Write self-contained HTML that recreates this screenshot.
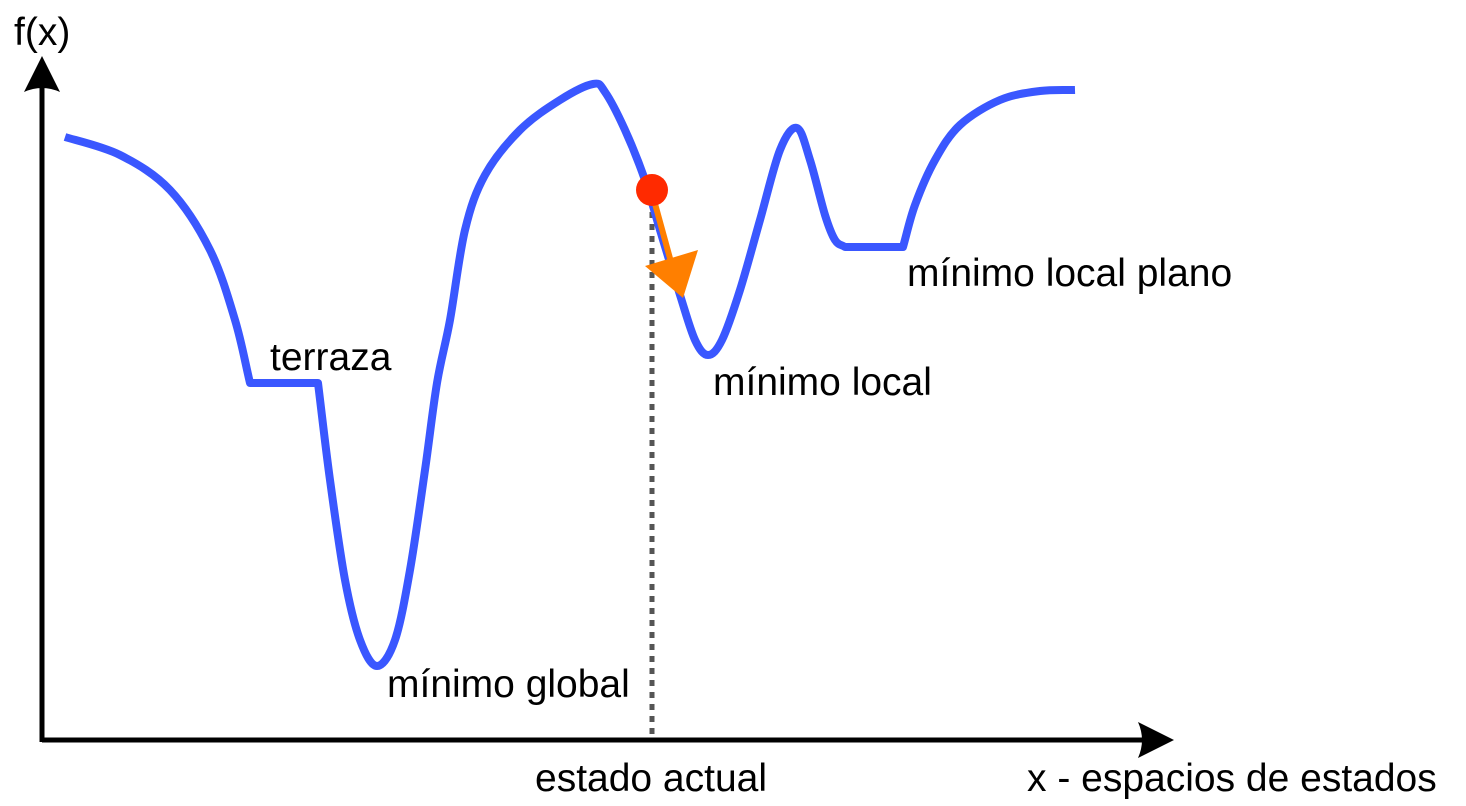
<!DOCTYPE html>
<html><head><meta charset="utf-8"><style>
html,body{margin:0;padding:0;background:#fff;}
svg{display:block;}
text{font-family:"Liberation Sans",Arial,sans-serif;font-size:39px;fill:#000;}
</style></head><body>
<svg id="chart" width="1466" height="806" viewBox="0 0 1466 806">
<g>
<line x1="42" y1="740" x2="1150" y2="740" stroke="#000" stroke-width="5"/>
<path d="M1174,740 L1138,722 Q1146,740 1138,758 Z" fill="#000"/>
</g>
<g>
<line x1="42" y1="742" x2="42" y2="80" stroke="#000" stroke-width="5"/>
<path d="M42,56 L24,92 Q42,84 60,92 Z" fill="#000"/>
</g>
<text x="14" y="45">f(x)</text>
<text x="1027" y="791">x - espacios de estados</text>
<text x="535" y="791">estado actual</text>
<text x="270" y="370">terraza</text>
<text x="387" y="697">mínimo global</text>
<text x="713" y="395">mínimo local</text>
<text x="907" y="286">mínimo local plano</text>
<line x1="652" y1="200" x2="652" y2="740" stroke="#555" stroke-width="5" stroke-dasharray="6 6"/>
<path id="curve" fill="none" stroke="#3a57ff" stroke-width="8" stroke-linejoin="round"/>
<g>
<line x1="654" y1="200" x2="671" y2="262" stroke="#ff7f00" stroke-width="6"/>
<path d="M683,298 L645,266 L698,250 Z" fill="#ff7f00"/>
</g>
<circle cx="652" cy="190" r="16" fill="#ff2a00"/>
</svg>
<script>
const xs = [23,78,128,168,193,208,276,288,303,318,335,353,368,383,395,408,423,443,478,518,551,563,583,603,618,638,653,666,680,698,718,738,755,768,783,793,803,861,873,893,918,958,998,1033];
const ys = [603,585,550,490,420,357,357,260,160,100,74,100,170,270,357,420,510,565,610,640,656,648,610,560,510,445,400,385,400,450,520,590,612,580,525,500,493,493,535,580,615,640,649,650];
function xScale(v){return 42+v;}
function yScale(v){return 740-v;}
const pts = xs.map((x,i)=>[xScale(x),yScale(ys[i])]);
let d = 'M'+pts[0][0]+','+pts[0][1];
for(let i=0;i<pts.length-1;i++){
  const p0=pts[Math.max(i-1,0)],p1=pts[i],p2=pts[i+1],p3=pts[Math.min(i+2,pts.length-1)];
  if(p1[1]===p2[1]){d+=' L'+p2[0]+','+p2[1];continue;}
  let c1=[p1[0]+(p2[0]-p0[0])/6,p1[1]+(p2[1]-p0[1])/6];
  let c2=[p2[0]-(p3[0]-p1[0])/6,p2[1]-(p3[1]-p1[1])/6];
  if(i>0&&p0[1]===p1[1]) c1=[p1[0]+(p2[0]-p1[0])/3,p1[1]+(p2[1]-p1[1])/3];
  if(i+2<pts.length&&p2[1]===p3[1]) c2=[p2[0]-(p2[0]-p1[0])/3,p2[1]-(p2[1]-p1[1])/3];
  d+=' C'+c1[0]+','+c1[1]+' '+c2[0]+','+c2[1]+' '+p2[0]+','+p2[1];
}
document.getElementById('curve').setAttribute('d',d);
</script>
</body></html>
